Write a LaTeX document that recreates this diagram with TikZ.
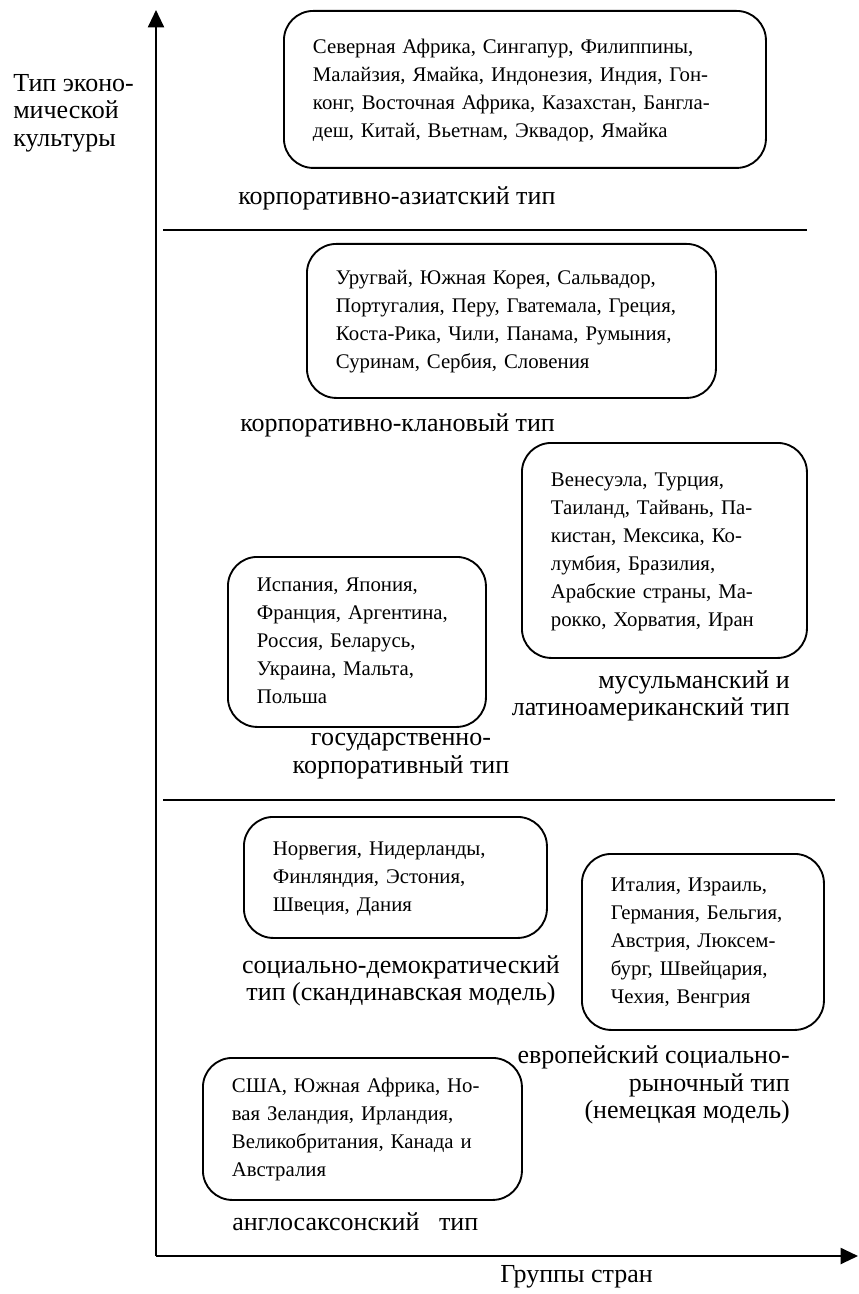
\documentclass[tikz,border=0pt]{standalone}
\usepackage{fontspec}
\setmainfont{Liberation Serif}
\newfontfamily\lblfam{Liberation Serif}
\usetikzlibrary{arrows.meta}

\newcommand{\cntfont}{\fontsize{15.6}{21}\selectfont}
\newcommand{\typfont}{\lblfam\fontsize{19.5}{20.6}\selectfont}
\newcommand{\cntlist}[1]{\begin{tabular}{@{}l@{}}#1\end{tabular}}

\begin{document}
\begin{tikzpicture}[x=0.75pt,y=-0.75pt,
  cbox/.style={draw,line width=1.4pt,rounded corners=22pt,anchor=north west,
    align=left,inner xsep=21.75pt,inner ysep=0pt,font=\cntfont},
  typ/.style={inner sep=0pt,font=\typfont},
  axis/.style={line width=1.5pt,-{Triangle[width=12pt,length=13pt]}},
  sepline/.style={line width=1.4pt}]

  \useasboundingbox (0,0) rectangle (858,1294);

  % axes
  \coordinate (O) at (156,1256);
  \coordinate (ytip) at (156,10);
  \coordinate (xtip) at (858,1256);
  \draw[axis] (O) -- (ytip);
  \draw[axis] (O) -- (xtip);

  \node[typ,anchor=west,align=left] (ylab) at (13,113) {Тип эконо-\\мической\\культуры};
  \node[typ,anchor=west] (xlab) at (500,1277) {Группы стран};

  % separators
  \coordinate (s1a) at (163,230);
  \coordinate (s1b) at (807,230);
  \coordinate (s2a) at (163,800);
  \coordinate (s2b) at (835,800);
  \draw[sepline] (s1a) -- (s1b);
  \draw[sepline] (s2a) -- (s2b);

  % corporate-asian
  \node[cbox,text width=318pt,minimum height=117.75pt] (asia) at (283,10)
    {\cntlist{Северная Африка, Сингапур, Филиппины,\\
      Малайзия, Ямайка, Индонезия, Индия, Гон-\\
      конг, Восточная Африка, Казахстан, Бангла-\\
      деш, Китай, Вьетнам, Эквадор, Ямайка}};
  \node[typ,anchor=west] (asiat) at (238,198) {корпоративно-азиатский тип};

  % corporate-clan
  \node[cbox,text width=263.25pt,minimum height=115.5pt] (clan) at (306,243)
    {\cntlist{Уругвай, Южная Корея, Сальвадор,\\
      Португалия, Перу, Гватемала, Греция,\\
      Коста-Рика, Чили, Панама, Румыния,\\
      Суринам, Сербия, Словения}};
  \node[typ,anchor=west] (clant) at (240,425) {корпоративно-клановый тип};

  % muslim / latin-american
  \node[cbox,text width=170.25pt,minimum height=161.25pt] (musl) at (521,442)
    {\cntlist{Венесуэла, Турция,\\
      Таиланд, Тайвань, Па-\\
      кистан, Мексика, Ко-\\
      лумбия, Бразилия,\\
      Арабские страны, Ма-\\
      рокко, Хорватия, Иран}};
  \node[typ,anchor=east,align=right] (muslt) at (790,696)
    {мусульманский и\\латиноамериканский тип};

  % state-corporate
  \node[cbox,text width=150pt,minimum height=127.5pt] (state) at (227,556)
    {\cntlist{Испания, Япония,\\
      Франция, Аргентина,\\
      Россия, Беларусь,\\
      Украина, Мальта,\\
      Польша}};
  \node[typ,align=center] (statet) at (401,756)
    {государственно-\\корпоративный тип};

  % social-democratic
  \node[cbox,text width=183.75pt,minimum height=90.75pt] (scand) at (243,816)
    {\cntlist{Норвегия, Нидерланды,\\
      Финляндия, Эстония,\\
      Швеция, Дания}};
  \node[typ,align=center] (scandt) at (401,981)
    {социально-демократический\\тип (скандинавская модель)};

  % european social-market
  \node[cbox,text width=138pt,minimum height=132pt] (germ) at (581,853)
    {\cntlist{Италия, Израиль,\\
      Германия, Бельгия,\\
      Австрия, Люксем-\\
      бург, Швейцария,\\
      Чехия, Венгрия}};
  \node[typ,anchor=east,align=right] (germt) at (790,1085)
    {европейский социально-\\рыночный тип\\(немецкая модель)};

  % anglo-saxon
  \node[cbox,text width=195.75pt,minimum height=106.5pt] (anglo) at (202,1057)
    {\cntlist{США, Южная Африка, Но-\\
      вая Зеландия, Ирландия,\\
      Великобритания, Канада и\\
      Австралия}};
  \node[typ,anchor=west] (anglot) at (232,1222) {англосаксонский\ \ \ тип};

\end{tikzpicture}
\end{document}
